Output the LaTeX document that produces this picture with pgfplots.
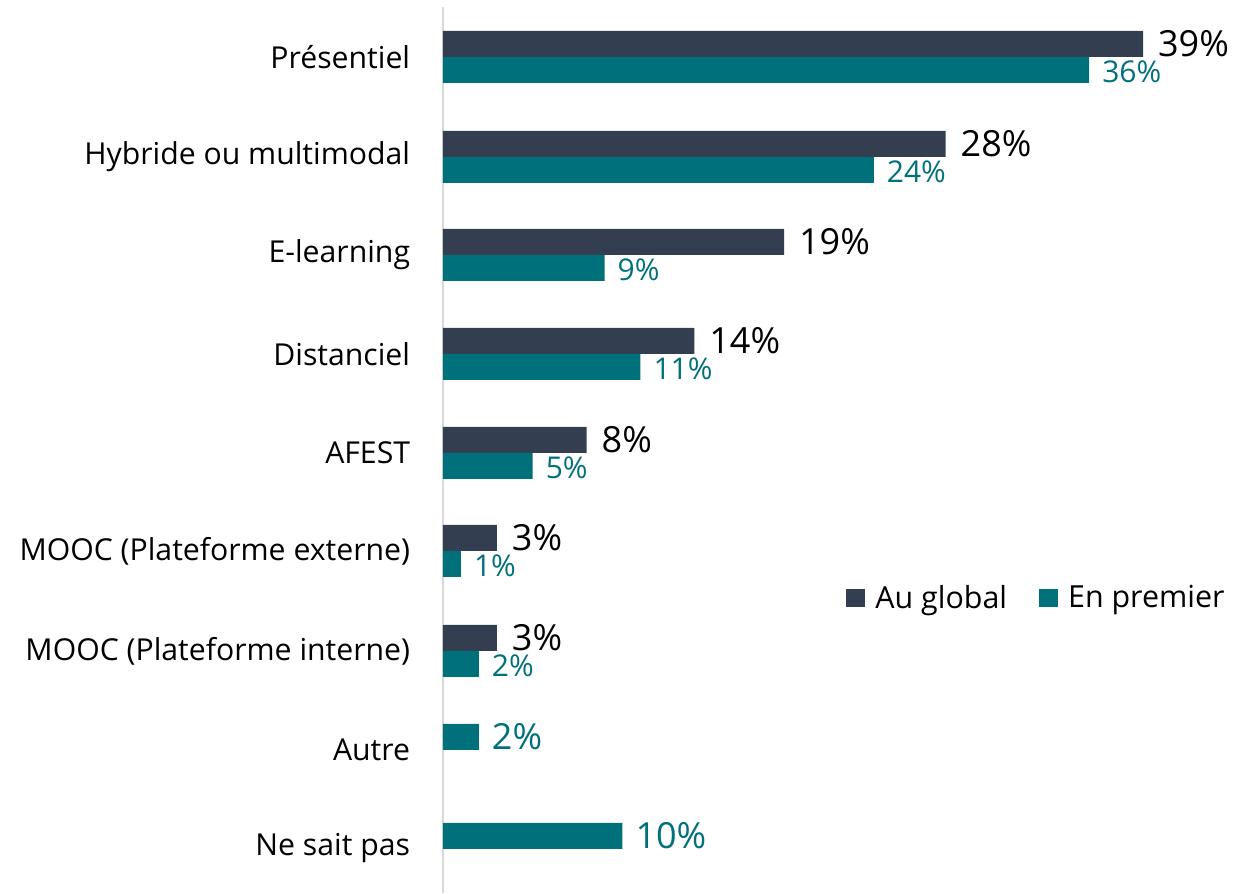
\documentclass[border=0pt]{standalone}
\usepackage{pgfplots}
\pgfplotsset{compat=1.18}
\usepackage{fontspec}
\setmainfont{Open Sans}
\definecolor{cdark}{HTML}{333F50}
\definecolor{cteal}{HTML}{00717A}
\definecolor{caxis}{HTML}{D9D9D9}
\begin{document}
\begin{tikzpicture}
\path[use as bounding box] (-221.5pt,0pt) rectangle (396pt,446.5pt);
\begin{axis}[
  at={(0pt,0pt)}, anchor=south west,
  scale only axis, width=359pt, height=443pt,
  xmin=0, xmax=40, ymin=0, ymax=886,
  xbar, bar width=13pt,
  hide x axis,
  axis y line*=left,
  y axis line style={draw=caxis, line width=1pt, -},
  ytick={45,143,242,342,440,539,638,736,836},
  yticklabels={Ne sait pas, Autre, MOOC (Plateforme interne), MOOC (Plateforme externe), AFEST, Distanciel, E-learning, Hybride ou multimodal, Présentiel},
  ytick style={draw=none},
  yticklabel style={font=\fontsize{15.1}{18}\selectfont, anchor=east, inner sep=0pt, xshift=-12pt},
  /pgf/number format/assume math mode=true,
  legend image code/.code={\fill[#1] (0pt,-4.7pt) rectangle (9.5pt,4.7pt);},
  legend style={draw=none, fill=none, at={(0.553,0.333)}, anchor=west, legend columns=2,
    font=\fontsize{15.2}{18}\selectfont,
    /tikz/every odd column/.append style={column sep=3pt},
    /tikz/every even column/.append style={column sep=14pt}},
]
\addplot[fill=cdark, draw=none, bar shift=6.5pt,
  nodes near coords={\pgfmathprintnumber{\pgfplotspointmeta}\%},
  nodes near coords style={font=\fontsize{18}{21}\selectfont, text=black, anchor=west, xshift=4pt}]
  coordinates {(39,836) (28,736) (19,638) (14,539) (8,440) (3,342) (3,242)};
\addplot[fill=cteal, draw=none, bar shift=-6.5pt,
  nodes near coords={\pgfmathprintnumber{\pgfplotspointmeta}\%},
  nodes near coords style={font=\fontsize{15}{18}\selectfont, text=cteal, anchor=west, xshift=3pt, yshift=-1pt}]
  coordinates {(36,836) (24,736) (9,638) (11,539) (5,440) (1,342) (2,242)};
\addplot[fill=cteal, draw=none, bar shift=0pt, forget plot,
  nodes near coords={\pgfmathprintnumber{\pgfplotspointmeta}\%},
  nodes near coords style={font=\fontsize{18}{21}\selectfont, text=cteal, anchor=west, xshift=3pt}]
  coordinates {(2,156) (10,57)};
\legend{Au global, En premier}
\end{axis}
\end{tikzpicture}
\end{document}
